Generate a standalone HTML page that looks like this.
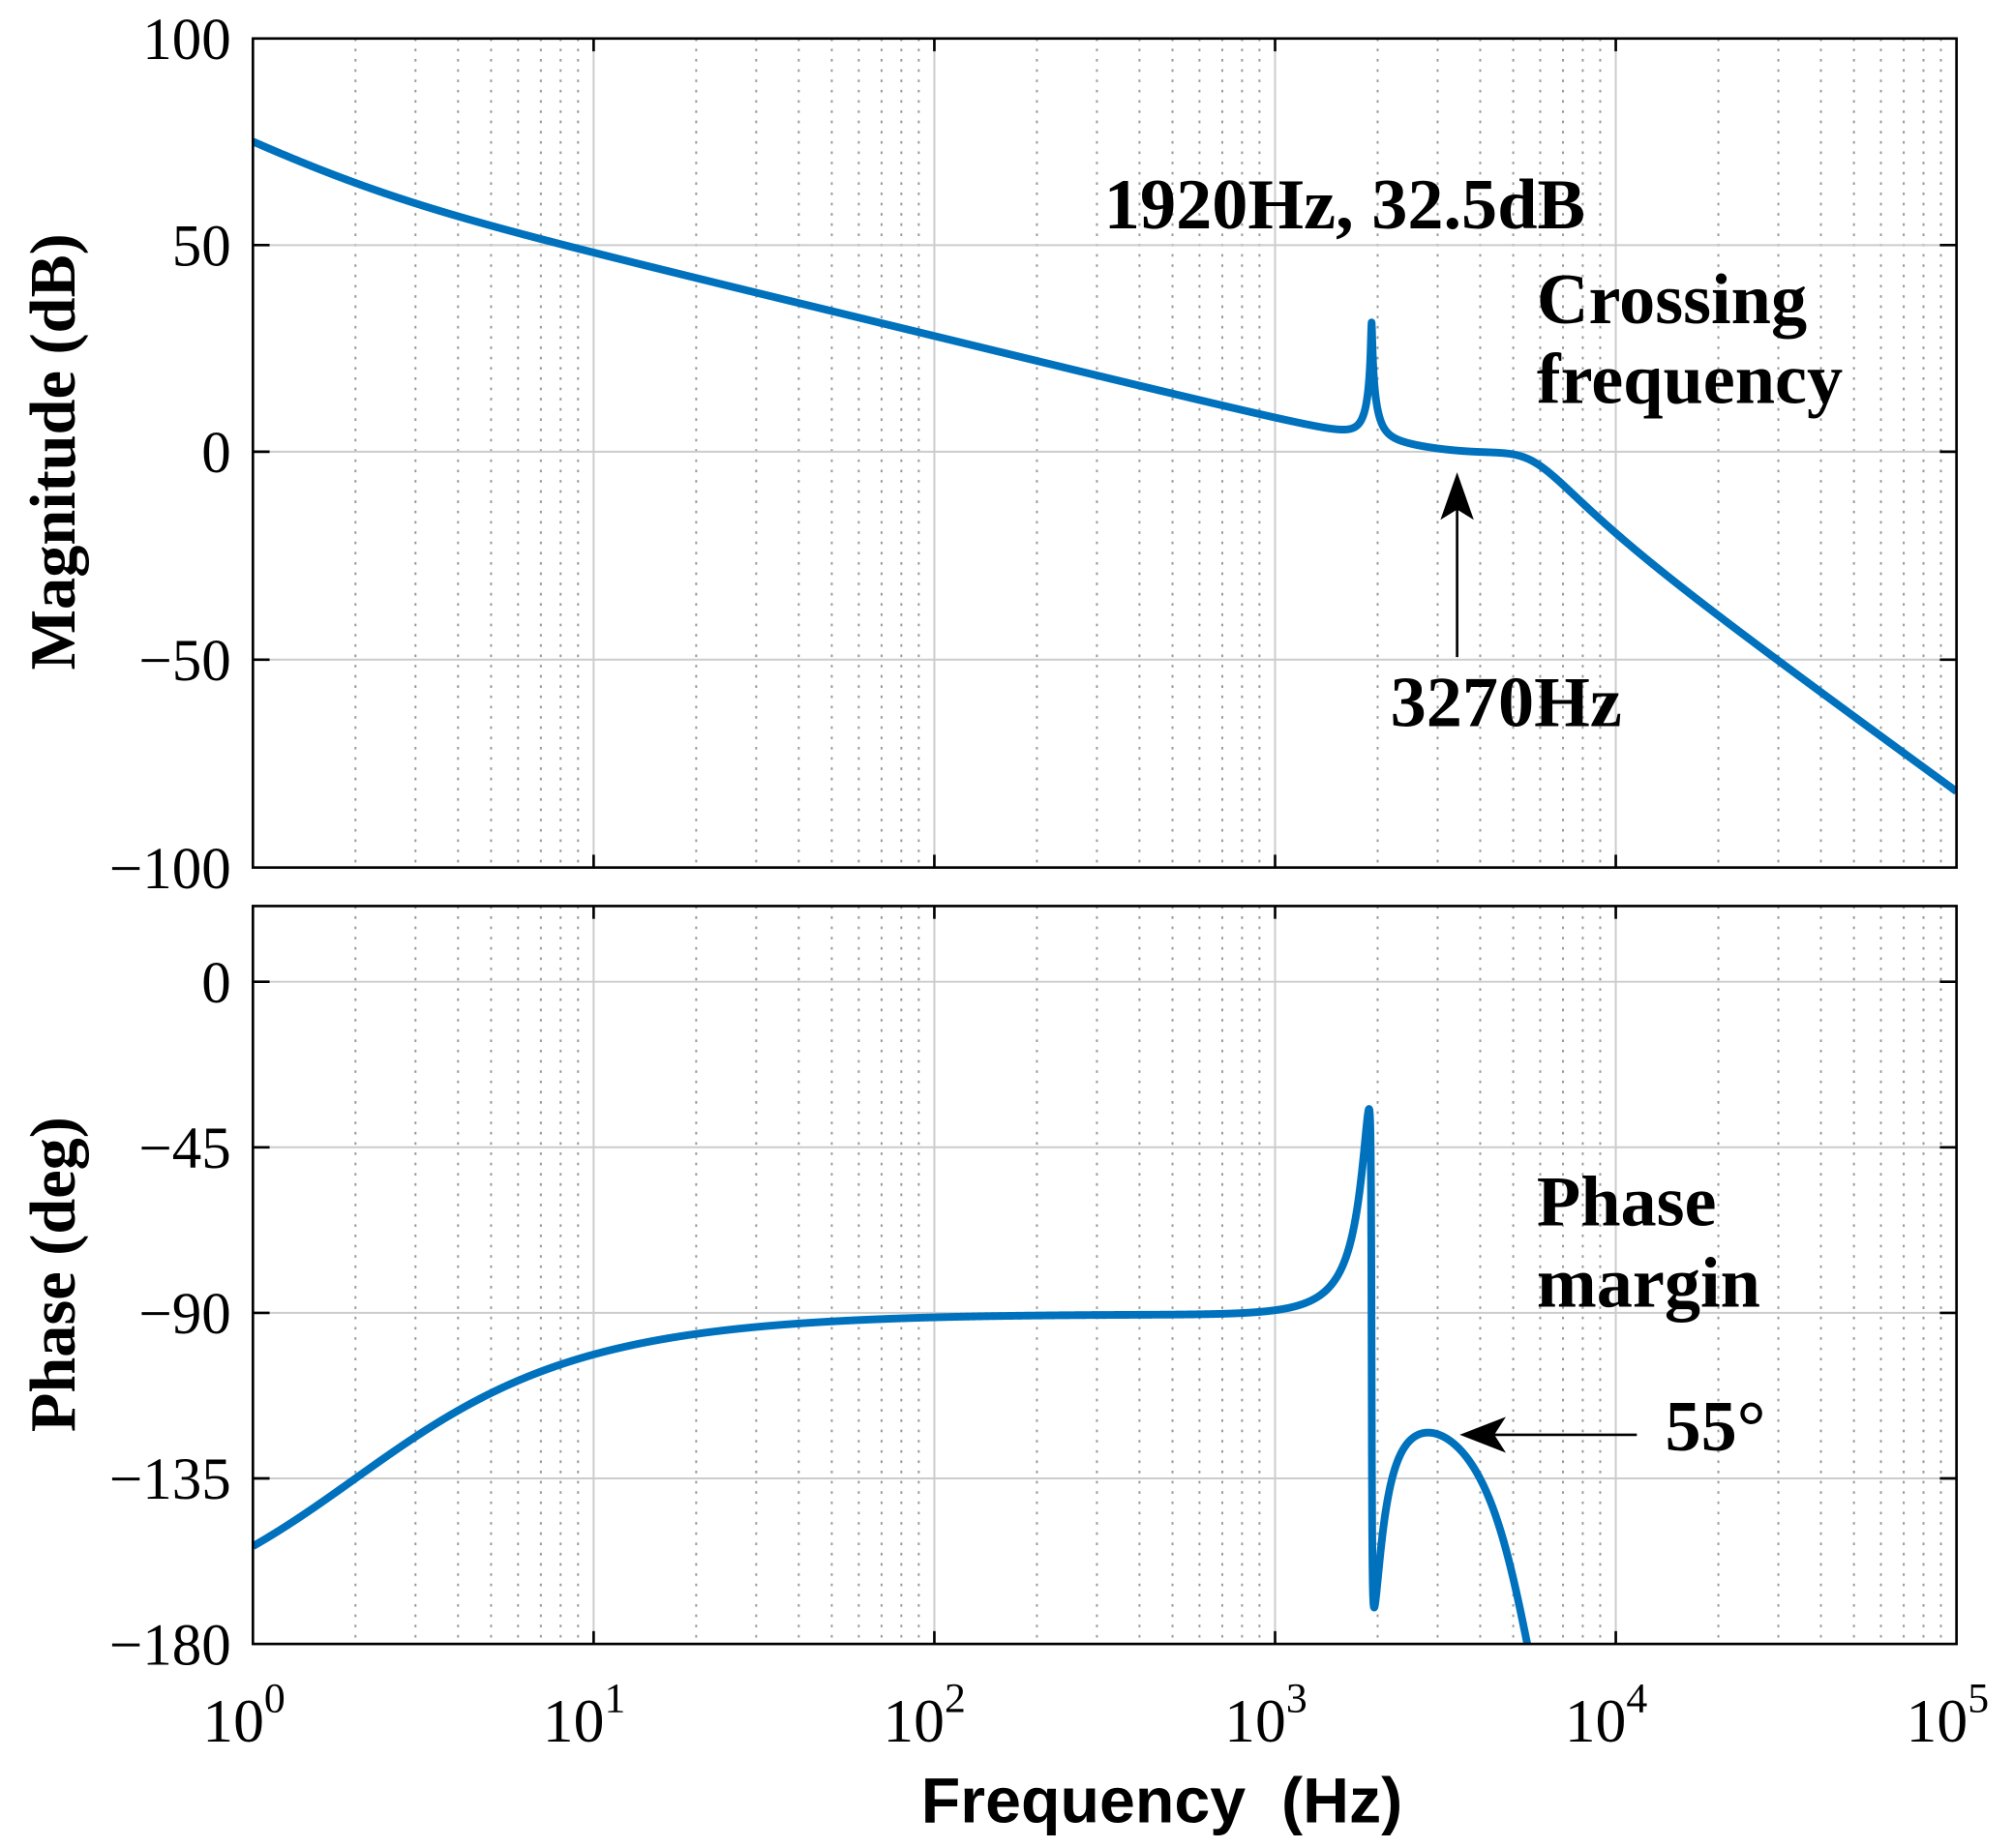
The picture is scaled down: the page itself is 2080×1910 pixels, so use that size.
<!DOCTYPE html>
<html><head><meta charset="utf-8"><style>html,body{margin:0;padding:0;background:#fff}svg{display:block}</style></head>
<body>
<svg id="s" width="2080" height="1910" viewBox="0 0 1568 1440" preserveAspectRatio="none" xmlns="http://www.w3.org/2000/svg">
<defs>
<clipPath id="c1"><rect x="197" y="30" width="1327" height="646"/></clipPath>
<clipPath id="c2"><rect x="197" y="706" width="1327" height="575"/></clipPath>
</defs>
<g id="grid"></g>
<path id="mag" clip-path="url(#c1)" fill="none" stroke="#0072BD" stroke-width="6" stroke-linejoin="round"/>
<path id="ph" clip-path="url(#c2)" fill="none" stroke="#0072BD" stroke-width="6" stroke-linejoin="round"/>
<g id="axes" fill="none" stroke="#000" stroke-width="2">
<rect x="197" y="30" width="1327" height="646"/>
<rect x="197" y="706" width="1327" height="575"/>
</g>
<g font-family="Liberation Serif, serif" font-size="46" fill="#000" text-anchor="end">
<text x="180" y="46">100</text><text x="180" y="207">50</text><text x="180" y="368">0</text>
<text x="180" y="530">−50</text><text x="180" y="692">−100</text>
<text x="180" y="781">0</text><text x="180" y="910">−45</text><text x="180" y="1039">−90</text>
<text x="180" y="1168">−135</text><text x="180" y="1297">−180</text>
</g>
<g font-family="Liberation Serif, serif" font-size="48" fill="#000" text-anchor="middle">
<text x="190" y="1357">10<tspan font-size="33" dy="-23">0</tspan></text>
<text x="455" y="1357">10<tspan font-size="33" dy="-23">1</tspan></text>
<text x="720" y="1357">10<tspan font-size="33" dy="-23">2</tspan></text>
<text x="986" y="1357">10<tspan font-size="33" dy="-23">3</tspan></text>
<text x="1251" y="1357">10<tspan font-size="33" dy="-23">4</tspan></text>
<text x="1517" y="1357">10<tspan font-size="33" dy="-23">5</tspan></text>
</g>
<text x="905" y="1420" font-family="Liberation Sans, sans-serif" font-weight="bold" font-size="50" text-anchor="middle">Frequency&#160;&#160;(Hz)</text>
<text transform="translate(58,352) rotate(-90)" font-family="Liberation Serif, serif" font-weight="bold" font-size="50" text-anchor="middle">Magnitude (dB)</text>
<text transform="translate(58,993) rotate(-90)" font-family="Liberation Serif, serif" font-weight="bold" font-size="50" text-anchor="middle">Phase (deg)</text>
<g font-family="Liberation Serif, serif" font-weight="bold" font-size="56" fill="#000">
<text x="860" y="178">1920Hz, 32.5dB</text>
<text x="1197" y="252">Crossing</text>
<text x="1197" y="314">frequency</text>
<text x="1083" y="566">3270Hz</text>
<text x="1197" y="955">Phase</text>
<text x="1197" y="1018">margin</text>
<text x="1297" y="1130">55°</text>
</g>
<line x1="1135" y1="512" x2="1135" y2="390" stroke="#000" stroke-width="2"/>
<path d="M1135 368 L1148 405 L1135 397 L1122 405 Z" fill="#000"/>
<line x1="1275" y1="1118" x2="1160" y2="1118" stroke="#000" stroke-width="2"/>
<path d="M1137 1118 L1173 1104 L1164 1118 L1173 1132 Z" fill="#000"/>
<script>
(function(){
var NS='http://www.w3.org/2000/svg';
var L=197,W=1327,dec=W/5;
function X(f){return L+Math.log10(f)*dec;}
var g=document.getElementById('grid');
function ln(x1,y1,x2,y2,st,sw,da){var e=document.createElementNS(NS,'line');
e.setAttribute('x1',x1);e.setAttribute('y1',y1);e.setAttribute('x2',x2);e.setAttribute('y2',y2);
e.setAttribute('stroke',st);e.setAttribute('stroke-width',sw);if(da)e.setAttribute('stroke-dasharray',da);g.appendChild(e);}
for(var d=0;d<5;d++){for(var k=2;k<=9;k++){var x=X(k*Math.pow(10,d));
ln(x,30,x,676,'#999',1.5,'2,6');ln(x,706,x,1281,'#999',1.5,'2,6');}}
for(var d=1;d<5;d++){var x=X(Math.pow(10,d));
ln(x,30,x,676,'#ccc',1.5);ln(x,706,x,1281,'#ccc',1.5);
ln(x,30,x,40,'#000',2);ln(x,666,x,676,'#000',2);ln(x,706,x,716,'#000',2);ln(x,1271,x,1281,'#000',2);}
[191,352,514,765,894,1023,1152].forEach(function(y){ln(197,y,1524,y,'#ccc',1.5);ln(197,y,210,y,'#000',2);ln(1511,y,1524,y,'#000',2);});
var K=2500,fr=1920,zz=0.086,zp=0.0034,fh=5600,zh=0.28;
function quad(r,z){return [1-r*r,2*z*r];}
var pm='',pp='';
var N=6000;
for(var i=0;i<=N;i++){
 var lf=5*i/N,f=Math.pow(10,lf);
 var mag=K/f*Math.sqrt(1+4/(f*f));
 var ph=-90-Math.atan(2/f)*180/Math.PI;
 var r=f/fr,a=quad(r,zz),b=quad(r,zp),c=quad(f/fh,zh);
 mag*=Math.hypot(a[0],a[1])/Math.hypot(b[0],b[1])/Math.hypot(c[0],c[1]);
 ph+=Math.atan2(a[1],a[0])*180/Math.PI-Math.atan2(b[1],b[0])*180/Math.PI-Math.atan2(c[1],c[0])*180/Math.PI;
 var db=20*Math.log10(mag);
 var x=X(f);
 var ym=352-db*3.225;
 var yp=765-ph*(129/45);
 if(yp>1400)yp=1400;
 pm+=(i?'L':'M')+x.toFixed(2)+' '+ym.toFixed(2);
 pp+=(i?'L':'M')+x.toFixed(2)+' '+yp.toFixed(2);
}
document.getElementById('mag').setAttribute('d',pm);
document.getElementById('ph').setAttribute('d',pp);
})();
</script>
</svg>
</body></html>
